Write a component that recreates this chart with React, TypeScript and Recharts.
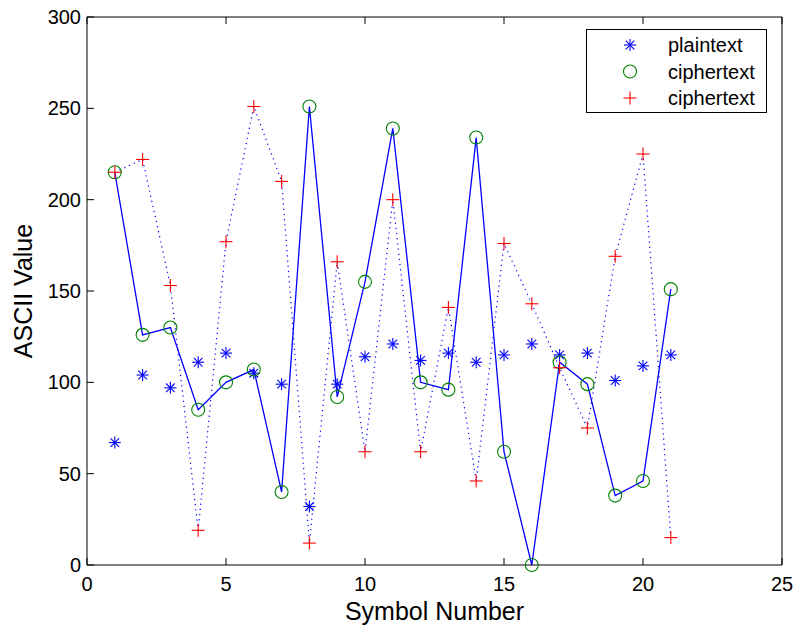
import { LineChart, Line, XAxis, YAxis } from "recharts";

const symbolNumbers = [1, 2, 3, 4, 5, 6, 7, 8, 9, 10, 11, 12, 13, 14, 15, 16, 17, 18, 19, 20, 21];
const plaintext = [67, 104, 97, 111, 116, 105, 99, 32, 99, 114, 121, 112, 116, 111, 115, 121, 115, 116, 101, 109, 115];
const cipherCircle = [215, 126, 130, 85, 100, 107, 40, 251, 92, 155, 239, 100, 96, 234, 62, 0, 111, 99, 38, 46, 151];
const cipherPlus = [215, 222, 153, 19, 177, 251, 210, 12, 166, 62, 200, 62, 141, 46, 176, 143, 108, 75, 169, 225, 15];
const xTicks = [0, 5, 10, 15, 20, 25];
const yTicks = [0, 50, 100, 150, 200, 250, 300];
const legendNames = ["plaintext", "ciphertext", "ciphertext"];

const data = symbolNumbers.map((n, i) => ({
	n,
	plain: plaintext[i],
	circ: cipherCircle[i],
	plus: cipherPlus[i],
}));

const FONT = "'Liberation Sans', Arial, Helvetica, sans-serif";
const BLUE = "#0000ff";
const GREEN = "#008000";
const RED = "#ff0000";

const W = 798;
const H = 627;
// plot box edges
const PT = 17;
const PB = 565;
const PL = 87;
const PR = 782;
const TICK = 7;

function Star({ cx, cy, color = BLUE }: any) {
	const r = 6;
	const d = 4.3;
	return (
		<g stroke={color} strokeWidth={1.1}>
			<line x1={cx - r} y1={cy} x2={cx + r} y2={cy} />
			<line x1={cx} y1={cy - r} x2={cx} y2={cy + r} />
			<line x1={cx - d} y1={cy - d} x2={cx + d} y2={cy + d} />
			<line x1={cx - d} y1={cy + d} x2={cx + d} y2={cy - d} />
		</g>
	);
}

function Ring({ cx, cy }: any) {
	return <circle cx={cx} cy={cy} r={6.5} fill="none" stroke={GREEN} strokeWidth={1.1} />;
}

function Plus({ cx, cy }: any) {
	const r = 6.5;
	return (
		<g stroke={RED} strokeWidth={1.1}>
			<line x1={cx - r} y1={cy} x2={cx + r} y2={cy} />
			<line x1={cx} y1={cy - r} x2={cx} y2={cy + r} />
		</g>
	);
}

const starDot = (p: any) =>
	p.cx == null ? <g key={p.index} /> : <g key={p.index}><Star cx={p.cx} cy={p.cy} /></g>;
const ringDot = (p: any) =>
	p.cx == null ? <g key={p.index} /> : <g key={p.index}><Ring cx={p.cx} cy={p.cy} /></g>;
const plusDot = (p: any) =>
	p.cx == null ? <g key={p.index} /> : <g key={p.index}><Plus cx={p.cx} cy={p.cy} /></g>;

function BottomTick({ x, payload }: any) {
	return (
		<g>
			<line x1={x} y1={PB} x2={x} y2={PB - TICK} stroke="#000" />
			<text x={x} y={PB + 26} textAnchor="middle" fontSize={20} fontFamily={FONT} fill="#000">
				{payload.value}
			</text>
		</g>
	);
}

function TopTick({ x }: any) {
	return <line x1={x} y1={PT} x2={x} y2={PT + TICK} stroke="#000" />;
}

function LeftTick({ y, payload }: any) {
	return (
		<g>
			<line x1={PL} y1={y} x2={PL + TICK} y2={y} stroke="#000" />
			<text x={PL - 6} y={y + 7} textAnchor="end" fontSize={20} fontFamily={FONT} fill="#000">
				{payload.value}
			</text>
		</g>
	);
}

function RightTick({ y }: any) {
	return <line x1={PR} y1={y} x2={PR - TICK} y2={y} stroke="#000" />;
}

function XTitle({ viewBox }: any) {
	const cx = viewBox.x + viewBox.width / 2;
	return (
		<text x={cx} y={PB + 55} textAnchor="middle" fontSize={25} fontFamily={FONT} fill="#000">
			Symbol Number
		</text>
	);
}

function YTitle({ viewBox }: any) {
	const cy = viewBox.y + viewBox.height / 2;
	return (
		<text
			x={32}
			y={cy}
			transform={`rotate(-90 32 ${cy})`}
			textAnchor="middle"
			fontSize={25}
			fontFamily={FONT}
			fill="#000">
			ASCII Value
		</text>
	);
}

function LegendBox() {
	const markers = [Star, Ring, Plus];
	return (
		<div
			style={{
				position: "absolute",
				left: 586,
				top: 29,
				width: 181,
				height: 84,
				boxSizing: "border-box",
				border: "1px solid #000",
				background: "#fff",
			}}>
			<svg width={181} height={84} style={{ position: "absolute", left: -1, top: -1 }}>
				{legendNames.map((name, i) => {
					const Mk = markers[i];
					const cy = 16 + i * 26.5;
					return (
						<g key={i}>
							<Mk cx={44} cy={cy} />
							<text x={82} y={cy + 7} fontSize={20} fontFamily={FONT} fill="#000">
								{name}
							</text>
						</g>
					);
				})}
			</svg>
		</div>
	);
}

export default function App() {
	return (
		<div style={{ position: "absolute", left: 0, top: 0, width: W, height: H, background: "#fff" }}>
			<LineChart width={W} height={H} data={data} margin={{ top: 0, right: 0, bottom: 0, left: 0 }}>
				<XAxis
					dataKey="n"
					type="number"
					domain={[0, 25]}
					ticks={xTicks}
					height={H - PB}
					tickSize={0}
					tickMargin={0}
					tick={<BottomTick />}
					axisLine={{ stroke: "#000" }}
					tickLine={false}
					interval={0}
					label={<XTitle />}
				/>
				<XAxis
					xAxisId="top"
					orientation="top"
					dataKey="n"
					type="number"
					domain={[0, 25]}
					ticks={xTicks}
					height={PT}
					tickSize={0}
					tickMargin={0}
					tick={<TopTick />}
					axisLine={{ stroke: "#000" }}
					tickLine={false}
					interval={0}
				/>
				<YAxis
					type="number"
					domain={[0, 300]}
					ticks={yTicks}
					width={PL}
					tickSize={0}
					tickMargin={0}
					tick={<LeftTick />}
					axisLine={{ stroke: "#000" }}
					tickLine={false}
					interval={0}
					label={<YTitle />}
				/>
				<YAxis
					yAxisId="right"
					orientation="right"
					type="number"
					domain={[0, 300]}
					ticks={yTicks}
					width={W - PR}
					tickSize={0}
					tickMargin={0}
					tick={<RightTick />}
					axisLine={{ stroke: "#000" }}
					tickLine={false}
					interval={0}
				/>
				<Line
					dataKey="plain"
					stroke="none"
					dot={starDot}
					activeDot={false}
					isAnimationActive={false}
				/>
				<Line
					dataKey="circ"
					type="linear"
					stroke={BLUE}
					strokeWidth={1.3}
					dot={ringDot}
					activeDot={false}
					isAnimationActive={false}
				/>
				<Line
					dataKey="plus"
					type="linear"
					stroke={BLUE}
					strokeWidth={1.2}
					strokeDasharray="1.2 4"
					dot={plusDot}
					activeDot={false}
					isAnimationActive={false}
				/>
			</LineChart>
			<LegendBox />
		</div>
	);
}
